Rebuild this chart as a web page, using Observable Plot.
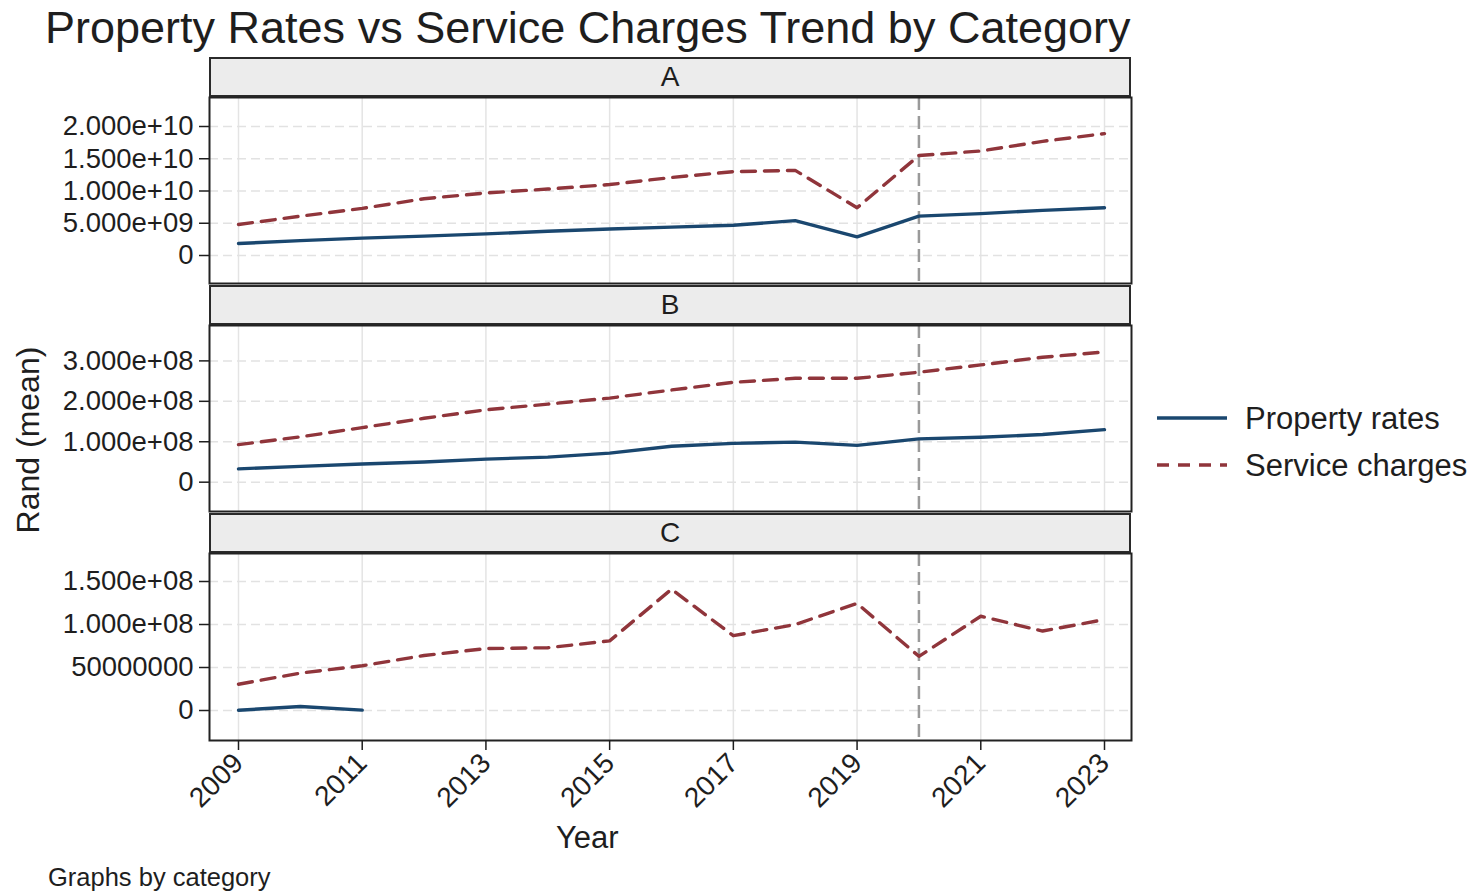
<!DOCTYPE html>
<html>
<head>
<meta charset="utf-8">
<script src="https://cdn.jsdelivr.net/npm/d3@7"></script>
<script src="https://cdn.jsdelivr.net/npm/@observablehq/plot@0.6"></script>
<style>
  body { margin: 0; background: #fff; }
  #chart { position: relative; width: 1484px; height: 894px; background: #fff; overflow: hidden;
           font-family: "Liberation Sans", Arial, sans-serif; color: #1e1e1e; }
  .abs { position: absolute; white-space: nowrap; }
  .strip { position: absolute; left: 209px; width: 922px; height: 40px; box-sizing: border-box;
           border: 2px solid #2a2a2a; background: #ececec; text-align: center;
           font-size: 28px; line-height: 36px; }
  .panel { position: absolute; left: 0; }
</style>
</head>
<body>
<div id="chart"></div>
<script>
// Years on the horizontal axis
const years = [2009, 2010, 2011, 2012, 2013, 2014, 2015, 2016, 2017, 2018, 2019, 2020, 2021, 2022, 2023];
const yearTicks = [2009, 2011, 2013, 2015, 2017, 2019, 2021, 2023];
const markerYear = 2020;

// Category A (Rand, mean)
const propertyA = [1.86e9, 2.3e9, 2.7e9, 3.0e9, 3.35e9, 3.76e9, 4.1e9, 4.4e9, 4.7e9, 5.4e9, 2.9e9, 6.1e9, 6.5e9, 7.0e9, 7.4e9];
const serviceA  = [4.8e9, 6.1e9, 7.3e9, 8.8e9, 9.7e9, 10.3e9, 11.0e9, 12.1e9, 13.0e9, 13.2e9, 7.4e9, 15.5e9, 16.2e9, 17.7e9, 18.9e9];

// Category B
const propertyB = [0.33e8, 0.39e8, 0.45e8, 0.50e8, 0.57e8, 0.62e8, 0.72e8, 0.89e8, 0.96e8, 0.99e8, 0.91e8, 1.07e8, 1.11e8, 1.18e8, 1.30e8];
const serviceB  = [0.93e8, 1.12e8, 1.35e8, 1.58e8, 1.79e8, 1.93e8, 2.08e8, 2.28e8, 2.47e8, 2.57e8, 2.57e8, 2.72e8, 2.90e8, 3.09e8, 3.22e8];

// Category C (property rates only reported 2009-2011)
const propertyC = [0.3e6, 4.7e6, 0.5e6, null, null, null, null, null, null, null, null, null, null, null, null];
const serviceC  = [30.5e6, 43.5e6, 52e6, 64e6, 72e6, 73e6, 81e6, 141e6, 87e6, 100e6, 124.5e6, 63e6, 109.6e6, 92.4e6, 105.7e6];

// Y-axis ticks and their labels per category
const ticksA  = [0, 5e9, 1e10, 1.5e10, 2e10];
const labelsA = ["0", "5.000e+09", "1.000e+10", "1.500e+10", "2.000e+10"];
const ticksB  = [0, 1e8, 2e8, 3e8];
const labelsB = ["0", "1.000e+08", "2.000e+08", "3.000e+08"];
const ticksC  = [0, 5e7, 1e8, 1.5e8];
const labelsC = ["0", "50000000", "1.000e+08", "1.500e+08"];

const seriesNames = ["Property rates", "Service charges"];
const colors = { "Property rates": "#1a476f", "Service charges": "#90353b" };
const dash = { "Property rates": null, "Service charges": "14,9" };

const chart = document.getElementById("chart");

function rows(values) {
  return years.map((year, i) => ({ year, value: values[i] }));
}

function panel({ name, top, plotHeight, domain, ticks, labels, property, service, xAxis }) {
  const strip = document.createElement("div");
  strip.className = "strip";
  strip.style.top = (top - 40) + "px";
  strip.textContent = name;
  chart.appendChild(strip);

  const labelOf = new Map(ticks.map((t, i) => [t, labels[i]]));
  const marginBottom = xAxis ? 100 : 2;
  const marks = [
    Plot.gridX(yearTicks, { stroke: "#e4e4e4", strokeOpacity: 1, strokeWidth: 1.5 }),
    Plot.gridY(ticks, { stroke: "#e2e2e2", strokeOpacity: 1, strokeWidth: 1.5, strokeDasharray: "9,5" }),
    Plot.ruleX([markerYear], { stroke: "#9a9a9a", strokeWidth: 2.5, strokeDasharray: "13,6" }),
    Plot.line(rows(service), { x: "year", y: "value", stroke: colors["Service charges"], strokeWidth: 3.4, strokeDasharray: dash["Service charges"] }),
    Plot.line(rows(property), { x: "year", y: "value", stroke: colors["Property rates"], strokeWidth: 3.4 }),
    Plot.axisY(ticks, { tickFormat: d => labelOf.get(d), tickSize: 10, tickPadding: 6, fontSize: 27.5, label: null, strokeWidth: 1.5 }),
    Plot.frame({ stroke: "#222", strokeWidth: 2 })
  ];
  if (xAxis) {
    marks.push(Plot.axisX(yearTicks, { tickFormat: d => String(d), tickRotate: -45, tickSize: 10, tickPadding: 8, fontSize: 28, label: null, strokeWidth: 1.5 }));
  }
  const svg = Plot.plot({
    width: 1140,
    height: 2 + plotHeight + marginBottom,
    marginLeft: 209,
    marginRight: 9,
    marginTop: 2,
    marginBottom,
    style: { fontFamily: "'Liberation Sans', Arial, sans-serif", color: "#1e1e1e", background: "transparent", overflow: "visible" },
    x: { domain: [years[0], years[years.length - 1]], insetLeft: 29, insetRight: 27, axis: xAxis ? undefined : null },
    y: { domain, label: null },
    marks
  });
  svg.classList.add("panel");
  svg.style.top = (top - 2) + "px";
  chart.appendChild(svg);
}

panel({ name: "A", top: 97, plotHeight: 186, domain: [-4.341e9, 2.4496e10], ticks: ticksA, labels: labelsA, property: propertyA, service: serviceA });
panel({ name: "B", top: 325, plotHeight: 186, domain: [-7.25e7, 3.875e8], ticks: ticksB, labels: labelsB, property: propertyB, service: serviceB });
panel({ name: "C", top: 553, plotHeight: 187, domain: [-3.488e7, 1.8256e8], ticks: ticksC, labels: labelsC, property: propertyC, service: serviceC, xAxis: true });

// Title, axis titles and note
function text(str, css) {
  const el = document.createElement("div");
  el.className = "abs";
  el.textContent = str;
  Object.assign(el.style, css);
  chart.appendChild(el);
  return el;
}
text("Property Rates vs Service Charges Trend by Category", { left: "45px", top: "5px", fontSize: "45px", lineHeight: "45px" });
text("Year", { left: "556px", top: "822px", fontSize: "31px", lineHeight: "31px" });
text("Graphs by category", { left: "48px", top: "864px", fontSize: "25.5px", lineHeight: "26px" });
text("Rand (mean)", { left: "28px", top: "440px", fontSize: "32px", lineHeight: "32px",
  transform: "translate(-50%, -50%) rotate(-90deg)" });

// Legend
const legend = d3.create("svg")
  .attr("width", 334).attr("height", 110)
  .style("position", "absolute").style("left", "1150px").style("top", "390px")
  .style("font-family", "'Liberation Sans', Arial, sans-serif");
seriesNames.forEach((s, i) => {
  const y = 28 + i * 47;
  legend.append("line").attr("x1", 7).attr("x2", 77).attr("y1", y).attr("y2", y)
    .attr("stroke", colors[s]).attr("stroke-width", 3.4)
    .attr("stroke-dasharray", dash[s] ? "12,9" : null);
  legend.append("text").attr("x", 95).attr("y", y).attr("dy", "0.36em")
    .attr("font-size", 31).attr("fill", "#1e1e1e").text(s);
});
chart.appendChild(legend.node());
</script>
</body>
</html>
